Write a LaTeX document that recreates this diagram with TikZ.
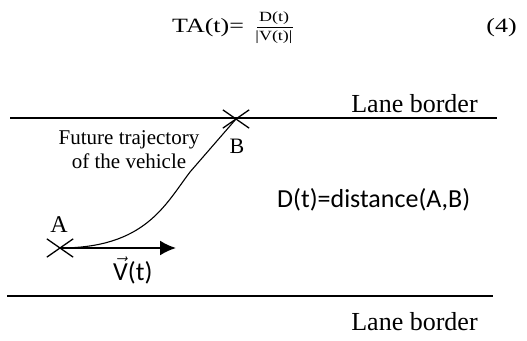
\documentclass[tikz,border=0pt]{standalone}
\usepackage{fontspec}
\setmainfont{Liberation Serif}
\newfontfamily\calib{Carlito}
\usetikzlibrary{arrows.meta,shapes.misc}
\tikzset{
  lane/.style={line width=1.3pt},
  xmark/.style={draw, cross out, line width=1.3pt, minimum width=25pt, minimum height=17pt, inner sep=0pt},
  traj/.style={line width=1.1pt},
  vel/.style={line width=2pt, -{Latex[length=16pt,width=15pt]}},
  serif/.style={inner sep=0pt, font=\fontsize{26}{28}\selectfont},
  sans/.style={inner sep=0pt, font=\calib\fontsize{26}{28}\selectfont},
  caption/.style={inner sep=0pt, font=\fontsize{21}{24}\selectfont, anchor=base},
}
\newcommand{\squash}[1]{\scalebox{1}[0.78]{#1}}
\begin{document}
\begin{tikzpicture}[x=1pt,y=-1pt]
\useasboundingbox (0,0) rectangle (527,340);
% equation
\node[serif, anchor=base west] (ta) at (172,32) {\squash{TA(t)=}};
\node[inner sep=0pt, font=\fontsize{18}{20}\selectfont, anchor=base] (num) at (274,21) {\squash{D(t)}};
\node[inner sep=0pt, font=\fontsize{18}{20}\selectfont, anchor=base] (den) at (274,40) {\squash{|V(t)|}};
\coordinate (barl) at (257,27);
\coordinate (barr) at (293,27);
\draw[line width=0.8pt] (barl) -- (barr);
\node[serif, anchor=base east] (eqn) at (517,32) {\squash{(4)}};
% lanes
\coordinate (tl) at (10,118);
\coordinate (tr) at (497,118);
\coordinate (bl) at (7,296);
\coordinate (br) at (493,296);
\draw[lane] (tl) -- (tr);
\draw[lane] (bl) -- (br);
\node[serif, anchor=base] (lb1) at (414.5,112.5) {Lane border};
\node[serif, anchor=base] (lb2) at (414.5,330) {Lane border};
% points
\coordinate (A) at (60,248);
\coordinate (B) at (236,119);
\coordinate (bend) at (190,172);
\node[xmark] (xa) at (A) {};
\node[xmark] (xb) at (B) {};
\coordinate (vtip) at (176,248);
\draw[traj] (A) .. controls (145,248) and (165,205) .. (bend) -- (B);
\draw[vel] (A) -- (vtip);
% labels
\node[inner sep=0pt, font=\fontsize{24}{26}\selectfont, anchor=base] (la) at (59,232) {A};
\node[inner sep=0pt, font=\fontsize{22}{24}\selectfont, anchor=base] (lbB) at (237,153) {B};
\node[sans, anchor=base west] (lv) at (113,280) {$\vec{\mbox{\calib V}}$(t)};
\node[sans, anchor=base west] (ld) at (277,207) {D(t)=distance(A,B)};
\node[caption] (ft1) at (129,144) {Future trajectory};
\node[caption] (ft2) at (129,168) {of the vehicle};
\end{tikzpicture}
\end{document}
